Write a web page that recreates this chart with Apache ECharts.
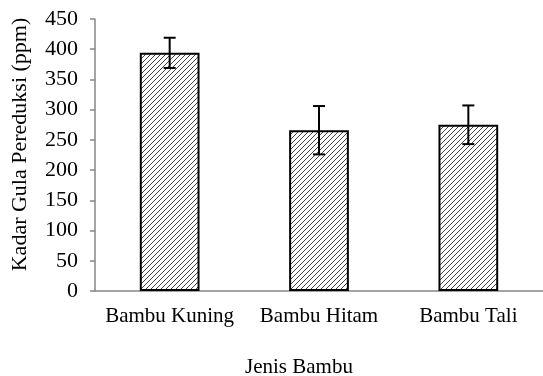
<!DOCTYPE html>
<html><head><meta charset="utf-8">
<script src="https://cdn.jsdelivr.net/npm/echarts@6/dist/echarts.min.js"></script>
<style>html,body{margin:0;padding:0;background:#fff}#c{width:543px;height:376px}</style>
</head><body><div id="c"></div>
<script>
var categories = ['Bambu Kuning', 'Bambu Hitam', 'Bambu Tali'];
var values = [394, 266, 275];
var errors = [25, 40, 32];
var yTicks = [0, 50, 100, 150, 200, 250, 300, 350, 400, 450];
var xTitle = 'Jenis Bambu';
var yTitle = 'Kadar Gula Pereduksi (ppm)';

function makePattern() {
  var s = 5;
  var c = document.createElement('canvas');
  c.width = s; c.height = s;
  var g = c.getContext('2d');
  g.fillStyle = '#fff'; g.fillRect(0, 0, s, s);
  g.strokeStyle = '#444'; g.lineWidth = 1;
  g.beginPath();
  g.moveTo(-1, s + 1); g.lineTo(s + 1, -1);
  g.moveTo(-1, 1); g.lineTo(1, -1);
  g.moveTo(s - 1, s + 1); g.lineTo(s + 1, s - 1);
  g.stroke();
  return c;
}

var font = 'Liberation Serif';
var chart = echarts.init(document.getElementById('c'), null, {renderer: 'canvas'});
chart.setOption({
  animation: false,
  grid: {left: 95, right: -4, top: 19, bottom: 85, containLabel: false},
  xAxis: {
    type: 'category', data: categories,
    axisLine: {lineStyle: {color: '#868686', width: 1.5}},
    axisTick: {show: false},
    axisLabel: {color: '#000', fontFamily: font, fontSize: 21, margin: 15, interval: 0, hideOverlap: false}
  },
  yAxis: {
    type: 'value', min: yTicks[0], max: yTicks[yTicks.length - 1], interval: 50,
    splitLine: {show: false},
    axisLine: {show: true, lineStyle: {color: '#868686', width: 1.5}},
    axisTick: {show: true, length: 5, lineStyle: {color: '#868686', width: 1.5}},
    axisLabel: {color: '#000', fontFamily: font, fontSize: 22, margin: 17}
  },
  graphic: [
    {type: 'text', x: 299, y: 367, style: {text: xTitle, font: '21px "' + font + '"', fill: '#000', align: 'center', verticalAlign: 'middle'}},
    {type: 'text', x: 20, y: 144.5, rotation: Math.PI / 2, style: {text: yTitle, font: '22px "' + font + '"', fill: '#000', align: 'center', verticalAlign: 'middle'}}
  ],
  series: [{
    type: 'bar', data: values, barWidth: '40%',
    itemStyle: {color: {image: makePattern(), repeat: 'repeat'}, borderColor: '#000', borderWidth: 2}
  }, {
    type: 'custom',
    data: values.map(function (v, i) { return [i, v - errors[i], v + errors[i]]; }),
    renderItem: function (params, api) {
      var x = api.value(0);
      var lo = api.coord([x, api.value(1)]);
      var hi = api.coord([x, api.value(2)]);
      var w = 6;
      var st = {stroke: '#000', lineWidth: 2};
      return {type: 'group', children: [
        {type: 'line', shape: {x1: lo[0], y1: lo[1], x2: hi[0], y2: hi[1]}, style: st},
        {type: 'line', shape: {x1: lo[0] - w, y1: lo[1], x2: lo[0] + w, y2: lo[1]}, style: st},
        {type: 'line', shape: {x1: hi[0] - w, y1: hi[1], x2: hi[0] + w, y2: hi[1]}, style: st}
      ]};
    },
    z: 10
  }]
});
</script></body></html>
